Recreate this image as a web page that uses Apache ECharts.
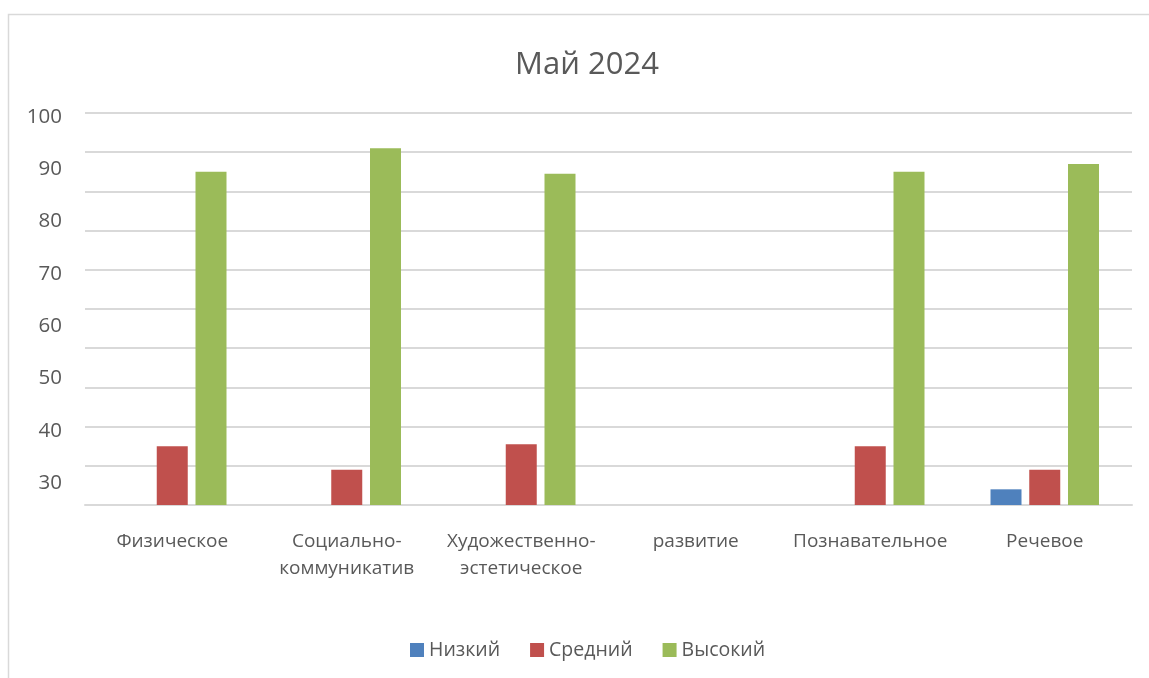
<!DOCTYPE html>
<html>
<head>
<meta charset="utf-8">
<script src="https://cdn.jsdelivr.net/npm/echarts@6/dist/echarts.min.js"></script>
<style>
  html, body { margin: 0; padding: 0; background: #fff; }
  #chart { width: 1149px; height: 678px; }
</style>
</head>
<body>
<div id="chart"></div>
<script>
// Данные диаграммы
const categories = ['Физическое', 'Социально-\nкоммуникатив', 'Художественно-\nэстетическое', 'развитие', 'Познавательное', 'Речевое'];
const lowValues = [null, null, null, null, null, 4];
const midValues = [15, 9, 15.5, null, 15, 9];
const highValues = [85, 91, 84.5, null, 85, 87];
const seriesNames = ['Низкий', 'Средний', 'Высокий'];
// подписи оси (в оригинале смещены относительно сетки)
const tickMin = 30;
const tickMax = 100;
const tickStep = 10;

const textColor = '#595959';
const fontFamily = '"Open Sans", "Noto Sans", sans-serif';

const chart = echarts.init(document.getElementById('chart'));

const option = {
    animation: false,
    title: {
        text: 'Май 2024',
        left: 582,
        textAlign: 'center',
        top: 45,
        textStyle: { color: textColor, fontSize: 31, fontWeight: 'normal', fontFamily: fontFamily }
    },
    legend: {
        bottom: 13,
        left: 405,
        itemWidth: 14,
        itemHeight: 14,
        itemGap: 30,
        icon: 'rect',
        textStyle: { color: textColor, fontSize: 19.5, fontFamily: fontFamily },
        data: seriesNames
    },
    graphic: [{
        type: 'rect',
        shape: { x: 8.5, y: 14.5, width: 1200, height: 700 },
        style: { fill: 'none', stroke: '#d9d9d9', lineWidth: 1.5 },
        silent: true,
        z: -1
    }],
    grid: [
        { left: 85, right: 17, top: 113, bottom: 173 },
        { left: 85, width: 10, top: 117, bottom: 195 }
    ],
    xAxis: [{
        type: 'category',
        gridIndex: 0,
        data: categories,
        axisLine: { lineStyle: { color: '#d9d9d9', width: 2 } },
        axisTick: { show: false },
        axisLabel: {
            color: textColor, fontSize: 19, fontFamily: fontFamily,
            margin: 23, lineHeight: 27, interval: 0
        }
    }, {
        type: 'value',
        gridIndex: 1,
        show: false,
        min: 0,
        max: 1
    }],
    yAxis: [{
        type: 'value',
        gridIndex: 0,
        min: 0,
        max: 100,
        interval: 10,
        axisLabel: { show: false },
        axisLine: { show: false },
        axisTick: { show: false },
        splitLine: { lineStyle: { color: '#d9d9d9', width: 2 } }
    }, {
        type: 'value',
        gridIndex: 1,
        min: tickMin,
        max: tickMax,
        interval: tickStep,
        axisLine: { show: false },
        axisTick: { show: false },
        splitLine: { show: false },
        axisLabel: { color: textColor, fontSize: 20.5, fontFamily: fontFamily, margin: 23 }
    }],
    series: [
        { name: seriesNames[0], type: 'bar', data: lowValues, barWidth: 31, barGap: '25%', itemStyle: { color: '#4F81BD' } },
        { name: seriesNames[1], type: 'bar', data: midValues, barWidth: 31, barGap: '25%', itemStyle: { color: '#C0504D' } },
        { name: seriesNames[2], type: 'bar', data: highValues, barWidth: 31, barGap: '25%', itemStyle: { color: '#9BBB59' } }
    ]
};

chart.setOption(option);
</script>
</body>
</html>
